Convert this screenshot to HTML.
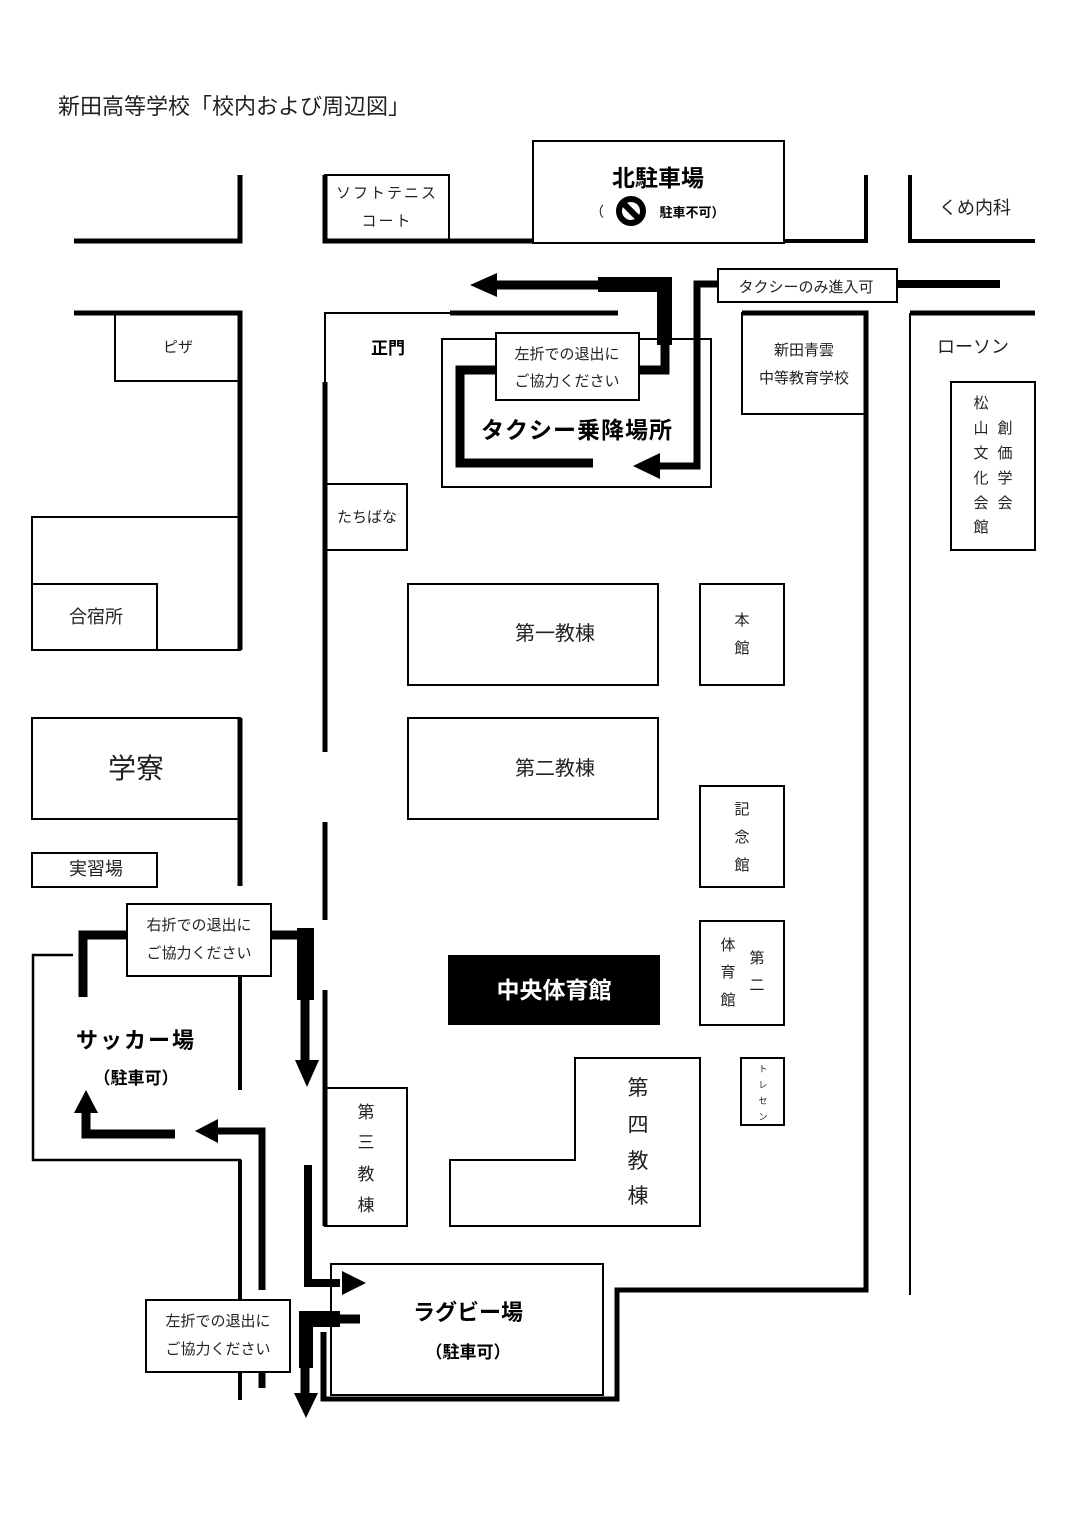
<!DOCTYPE html>
<html><head><meta charset="utf-8"><style>
html,body{margin:0;padding:0;background:#fff}
svg{display:block}
text{font-family:"Liberation Sans","Noto Sans CJK JP",sans-serif;fill:#222}
.b{font-weight:bold;fill:#000}
</style></head><body>
<svg width="1085" height="1536" viewBox="0 0 1085 1536" xmlns="http://www.w3.org/2000/svg">
<rect width="1085" height="1536" fill="#fff"/>
<text x="58" y="114" font-size="22">新田高等学校「校内および周辺図」</text>
<g fill="none" stroke="#000">
<polyline points="74,241 240,241 240,175" stroke-width="5"/>
<polyline points="325,175 325,241 533,241" stroke-width="5"/>
<rect x="325" y="175" width="124" height="66" stroke-width="2"/>
<rect x="533" y="141" width="251" height="102" stroke-width="2"/>
<polyline points="784,241 866,241 866,175" stroke-width="4"/>
<polyline points="910,175 910,241 1035,241" stroke-width="4"/>
<polyline points="74,313 240,313 240,650" stroke-width="5"/>
<rect x="115" y="313" width="125" height="68" stroke-width="2"/>
<rect x="32" y="517" width="208" height="133" stroke-width="2"/>
<rect x="32" y="584" width="125" height="66" stroke-width="2"/>
<line x1="240" y1="517" x2="240" y2="650" stroke-width="5"/>
<rect x="32" y="718" width="208" height="101" stroke-width="2"/>
<line x1="240" y1="718" x2="240" y2="886" stroke-width="5"/>
<rect x="32" y="853" width="125" height="34" stroke-width="2"/>
<polyline points="73,955 33,955 33,1160 240,1160 240,1400" stroke-width="2.5"/>
<line x1="240" y1="1160" x2="240" y2="1400" stroke-width="4"/>
<line x1="240" y1="976" x2="240" y2="1090" stroke-width="4"/>
<polyline points="450,313 325,313 325,382" stroke-width="2"/>
<line x1="450" y1="313" x2="618" y2="313" stroke-width="5"/>
<line x1="325" y1="382" x2="325" y2="752" stroke-width="5"/>
<line x1="325" y1="822" x2="325" y2="920" stroke-width="5"/>
<line x1="325" y1="990" x2="325" y2="1226" stroke-width="5"/>
<rect x="325" y="484" width="82" height="66" stroke-width="2"/>
<rect x="442" y="339" width="269" height="148" stroke-width="2"/>
<polyline points="742,313 866,313 866,1290 617,1290 617,1399 323,1399 323,1332" stroke-width="5"/>
<rect x="742" y="313" width="124" height="101" stroke-width="2"/>
<line x1="910" y1="313" x2="910" y2="1295" stroke-width="2"/>
<line x1="910" y1="313" x2="1035" y2="313" stroke-width="5"/>
<rect x="951" y="382" width="84" height="168" stroke-width="2"/>
<rect x="408" y="584" width="250" height="101" stroke-width="2"/>
<rect x="408" y="718" width="250" height="101" stroke-width="2"/>
<rect x="700" y="584" width="84" height="101" stroke-width="2"/>
<rect x="700" y="786" width="84" height="101" stroke-width="2"/>
<rect x="700" y="921" width="84" height="104" stroke-width="2"/>
<rect x="741" y="1058" width="43" height="67" stroke-width="2"/>
<polygon points="575,1058 700,1058 700,1226 450,1226 450,1160 575,1160" stroke-width="2"/>
<rect x="325" y="1088" width="82" height="138" stroke-width="2"/>
<rect x="331" y="1264" width="272" height="131" stroke-width="2"/>
<polyline points="639,370 665,370 665,285 600,285" stroke-width="9"/>
<line x1="600" y1="285" x2="495" y2="285" stroke-width="9"/>
<polyline points="496,370 460,370 460,463 593,463" stroke-width="9"/>
<polyline points="718,284 697,284 697,466 660,466" stroke-width="7"/>
<line x1="897" y1="284" x2="1000" y2="284" stroke-width="8"/>
<polyline points="127,935 83,935 83,997" stroke-width="9"/>
<polyline points="271,935 305,935 305,1060" stroke-width="9"/>
<polyline points="262,1290 262,1131 215,1131" stroke-width="7"/>
<line x1="262" y1="1372" x2="262" y2="1388" stroke-width="7"/>
<polyline points="175,1134 86,1134 86,1110" stroke-width="9"/>
<polyline points="308,1165 308,1283 340,1283" stroke-width="8"/>
<polyline points="360,1319 305,1319 305,1400" stroke-width="9"/>
</g>
<g fill="#000">
<rect x="598" y="277" width="74" height="15"/>
<rect x="657" y="277" width="15" height="68"/>
<rect x="297" y="928" width="17" height="72"/>
<rect x="300" y="1311" width="40" height="16"/>
<rect x="299" y="1311" width="14" height="57"/>
<polygon points="470,285 497,273 497,297"/>
<polygon points="633,466 660,453 660,479"/>
<polygon points="307,1087 295,1060 319,1060"/>
<polygon points="195,1131 218,1119 218,1143"/>
<polygon points="86,1090 74,1113 98,1113"/>
<polygon points="366,1283 342,1271 342,1295"/>
<polygon points="306,1418 294,1393 318,1393"/>
<rect x="448" y="955" width="212" height="70"/>
</g>
<g fill="#fff" stroke="#000" stroke-width="2">
<rect x="496" y="333" width="143" height="67"/>
<rect x="718" y="269" width="179" height="33"/>
<rect x="127" y="904" width="144" height="72"/>
<rect x="146" y="1300" width="144" height="72"/>
</g>
<line x1="325" y1="1332" x2="325" y2="1399" stroke="#000" stroke-width="3"/>
<g font-size="15" text-anchor="middle">
<text x="387" y="198" letter-spacing="2">ソフトテニス</text>
<text x="387" y="226" letter-spacing="2">コート</text>
<text x="975" y="214" font-size="18">くめ内科</text>
<text x="178" y="352">ピザ</text>
<text x="96" y="623" font-size="18">合宿所</text>
<text x="136" y="778" font-size="28">学寮</text>
<text x="96" y="875" font-size="18">実習場</text>
<text x="567" y="359">左折での退出に</text>
<text x="567" y="386">ご協力ください</text>
<text x="806" y="292">タクシーのみ進入可</text>
<text x="804" y="355">新田青雲</text>
<text x="804" y="383">中等教育学校</text>
<text x="973" y="353" font-size="18">ローソン</text>
<text x="367" y="522">たちばな</text>
<text x="199" y="930">右折での退出に</text>
<text x="199" y="958">ご協力ください</text>
<text x="218" y="1326">左折での退出に</text>
<text x="218" y="1354">ご協力ください</text>
<text x="555" y="640" font-size="20">第一教棟</text>
<text x="555" y="775" font-size="20">第二教棟</text>
</g>
<g font-size="15" text-anchor="middle">
<text x="981" y="408">松</text><text x="981" y="433">山</text><text x="981" y="458">文</text><text x="981" y="483">化</text><text x="981" y="508">会</text><text x="981" y="532">館</text>
<text x="1005" y="433">創</text><text x="1005" y="458">価</text><text x="1005" y="483">学</text><text x="1005" y="508">会</text>
<text x="742" y="625">本</text><text x="742" y="653">館</text>
<text x="742" y="814">記</text><text x="742" y="842">念</text><text x="742" y="870">館</text>
<text x="728" y="950">体</text><text x="728" y="977">育</text><text x="728" y="1005">館</text>
<text x="757" y="963">第</text><text x="757" y="990">二</text>
<text x="366" y="1118" font-size="17">第</text><text x="366" y="1148" font-size="17">三</text><text x="366" y="1180" font-size="17">教</text><text x="366" y="1211" font-size="17">棟</text>
<text x="638" y="1095" font-size="21">第</text><text x="638" y="1132" font-size="21">四</text><text x="638" y="1168" font-size="21">教</text><text x="638" y="1203" font-size="21">棟</text>
<text x="763" y="1072" font-size="9">ト</text><text x="763" y="1088" font-size="9">レ</text><text x="763" y="1104" font-size="9">セ</text><text x="763" y="1120" font-size="9">ン</text>
</g>
<g text-anchor="middle">
<text class="b" x="658" y="186" font-size="23">北駐車場</text>
<text x="597" y="217" font-size="14" font-weight="normal">（</text>
<circle cx="631" cy="211" r="12" fill="none" stroke="#000" stroke-width="6"/>
<line x1="623" y1="203" x2="639" y2="219" stroke="#000" stroke-width="6"/>
<text class="b" x="692" y="217" font-size="13">駐車不可）</text>
<text class="b" x="388" y="354" font-size="17">正門</text>
<text class="b" x="577" y="438" font-size="23" letter-spacing="1">タクシー乗降場所</text>
<text x="554" y="998" font-size="23" font-weight="bold" style="fill:#fff">中央体育館</text>
<text class="b" x="136" y="1048" font-size="22" letter-spacing="2">サッカー場</text>
<text class="b" x="136" y="1084" font-size="17">（駐車可）</text>
<text class="b" x="468" y="1320" font-size="22">ラグビー場</text>
<text class="b" x="468" y="1358" font-size="17">（駐車可）</text>
</g>
</svg>
</body></html>
